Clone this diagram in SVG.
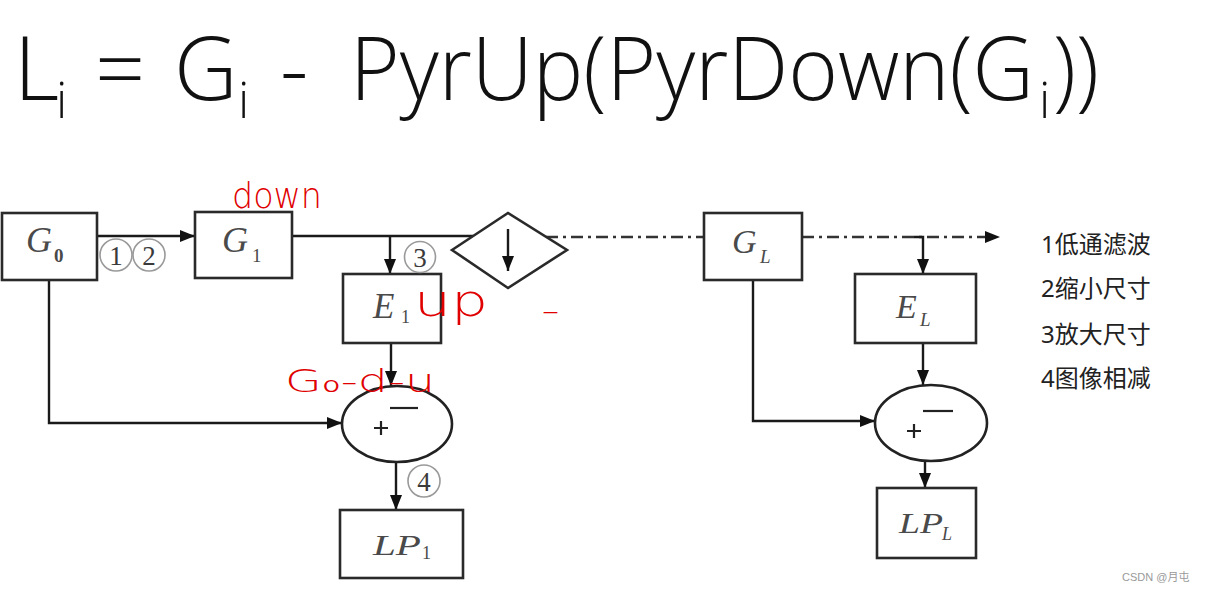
<svg xmlns="http://www.w3.org/2000/svg" width="1206" height="590" viewBox="0 0 1206 590">
<style>
.box{fill:#fff;stroke:#2a2a2a;stroke-width:2.6}
.ell{fill:#fff;stroke:#222;stroke-width:2.6}
.ln{fill:none;stroke:#1a1a1a;stroke-width:2.4}
.dd{fill:none;stroke:#333;stroke-width:2.6;stroke-dasharray:12 5 3 5}
.mt{font-family:"Liberation Serif",serif;font-style:italic;fill:#4a4a4a}
.sb{font-family:"Liberation Serif",serif;fill:#4a4a4a}
.title{font-family:"Open Sans","Noto Sans",sans-serif;font-weight:300;fill:#111;font-size:88px}
.ti{font-size:50px}
.leg{font-family:"Noto Sans","Noto Sans CJK SC",sans-serif;font-size:24px;fill:#222}
.cn{fill:none;stroke:#999;stroke-width:1.6}
.cd{font-family:"Liberation Serif",serif;font-size:27px;fill:#3a3a3a;text-anchor:middle}
.red{font-family:"DejaVu Sans",sans-serif;font-weight:200;fill:#e00000}
.pm{fill:none;stroke:#222;stroke-width:2.2}
</style>
<defs>
<marker id="ah" markerUnits="userSpaceOnUse" markerWidth="16" markerHeight="12" refX="15" refY="6" orient="auto">
<path d="M0,0 L15,6 L0,12 z" fill="#111"/>
</marker>
</defs>
<rect width="1206" height="590" fill="#fff"/>

<g id="title">
<text class="title" x="14" y="100">L<tspan class="ti" x="56" dy="18">i</tspan></text>
<text class="title" x="95" y="100">=</text>
<text class="title" x="174" y="100">G<tspan class="ti" x="238" dy="18">i</tspan></text>
<text class="title" x="280" y="100">-</text>
<text class="title" y="100"><tspan x="350" textLength="684" lengthAdjust="spacingAndGlyphs">PyrUp(PyrDown(G</tspan><tspan class="ti" x="1039" dy="18">i</tspan><tspan x="1053" dy="-18" textLength="46" lengthAdjust="spacingAndGlyphs">))</tspan></text>
</g>

<g id="connectors">
<line class="ln" x1="97" y1="236" x2="195" y2="236" marker-end="url(#ah)"/>
<line class="ln" x1="292" y1="236" x2="473" y2="236"/>
<line class="ln" x1="390" y1="236" x2="390" y2="274" marker-end="url(#ah)"/>
<line class="ln" x1="391" y1="343" x2="391" y2="386" marker-end="url(#ah)"/>
<path class="ln" d="M49,280 V423 H342" marker-end="url(#ah)"/>
<line class="ln" x1="396" y1="462" x2="396" y2="510" marker-end="url(#ah)"/>
<line class="dd" x1="546" y1="237" x2="704" y2="237"/>
<line class="dd" x1="802" y1="237" x2="985" y2="237"/>
<path d="M985,231 L1000,237 L985,243 z" fill="#111"/>
<path class="ln" d="M914,237 H923 V274" marker-end="url(#ah)"/>
<line class="ln" x1="923" y1="343" x2="923" y2="385" marker-end="url(#ah)"/>
<path class="ln" d="M753,280 V421 H875" marker-end="url(#ah)"/>
<line class="ln" x1="925" y1="462" x2="925" y2="488" marker-end="url(#ah)"/>
</g>

<g id="G0">
<rect class="box" x="2" y="213" width="95" height="67"/>
<text class="mt" x="26" y="252" font-size="36">G</text>
<text class="sb" x="54" y="262" font-size="19" font-weight="bold">0</text>
</g>
<g id="G1">
<rect class="box" x="195" y="212" width="97" height="66"/>
<text class="mt" x="222" y="252" font-size="36">G</text>
<text class="sb" x="252" y="262" font-size="19">1</text>
</g>
<g id="down-op">
<path class="box" d="M452,250 L508,213 L567,250 L508,288 z"/>
<line class="ln" x1="508" y1="229" x2="508" y2="271" marker-end="url(#ah)"/>
</g>
<g id="E1">
<rect class="box" x="343" y="274" width="98" height="69"/>
<text class="mt" x="373" y="318" font-size="35">E</text>
<text class="sb" x="401" y="323" font-size="18">1</text>
</g>
<g id="sub1">
<ellipse class="ell" cx="397" cy="424" rx="55" ry="38"/>
<path class="pm" d="M374,428 H388 M381,421 V435"/>
<path class="pm" d="M390,408 H418" stroke-width="2.8"/>
</g>
<g id="LP1">
<rect class="box" x="340" y="510" width="123" height="68"/>
<text class="mt" x="373" y="555" font-size="30" textLength="48" lengthAdjust="spacingAndGlyphs">LP</text>
<text class="sb" x="422" y="559" font-size="18">1</text>
</g>
<g id="GL">
<rect class="box" x="704" y="213" width="98" height="67"/>
<text class="mt" x="732" y="253" font-size="34">G</text>
<text class="mt" x="760" y="263" font-size="19">L</text>
</g>
<g id="EL">
<rect class="box" x="855" y="274" width="121" height="69"/>
<text class="mt" x="896" y="318" font-size="34">E</text>
<text class="mt" x="920" y="326" font-size="19">L</text>
</g>
<g id="subL">
<ellipse class="ell" cx="931" cy="423" rx="56" ry="38"/>
<path class="pm" d="M907,431 H921 M914,424 V438"/>
<path class="pm" d="M923,411 H953" stroke-width="2.8"/>
</g>
<g id="LPL">
<rect class="box" x="877" y="488" width="99" height="70"/>
<text class="mt" x="899" y="533" font-size="30" textLength="44" lengthAdjust="spacingAndGlyphs">LP</text>
<text class="mt" x="942" y="540" font-size="18">L</text>
</g>

<g id="steps">
<circle class="cn" cx="116" cy="255" r="16"/><text class="cd" x="116" y="265">1</text>
<circle class="cn" cx="149" cy="255" r="16"/><text class="cd" x="149" y="265">2</text>
<circle class="cn" cx="420" cy="257" r="15.5"/><text class="cd" x="420" y="267">3</text>
<circle class="cn" cx="424" cy="481" r="16"/><text class="cd" x="424" y="491">4</text>
</g>

<g id="legend">
<text class="leg" x="1041" y="253">1低通滤波</text>
<text class="leg" x="1041" y="297">2缩小尺寸</text>
<text class="leg" x="1041" y="343">3放大尺寸</text>
<text class="leg" x="1041" y="387">4图像相减</text>
</g>

<g id="annotations">
<text class="red" x="232" y="208" font-size="36" textLength="90" lengthAdjust="spacingAndGlyphs">down</text>
<text class="red" x="414" y="316" font-size="44" textLength="74" lengthAdjust="spacingAndGlyphs">up</text>
<text class="red" x="542" y="322" font-size="34" textLength="17" lengthAdjust="spacingAndGlyphs">–</text>
<text class="red" x="285" y="392" font-size="32" textLength="150" lengthAdjust="spacingAndGlyphs">G₀-d-u</text>
</g>

<text x="1122" y="581" font-family="'Liberation Sans','Noto Sans CJK SC',sans-serif" font-size="11" fill="#999">CSDN @月屯</text>
</svg>
